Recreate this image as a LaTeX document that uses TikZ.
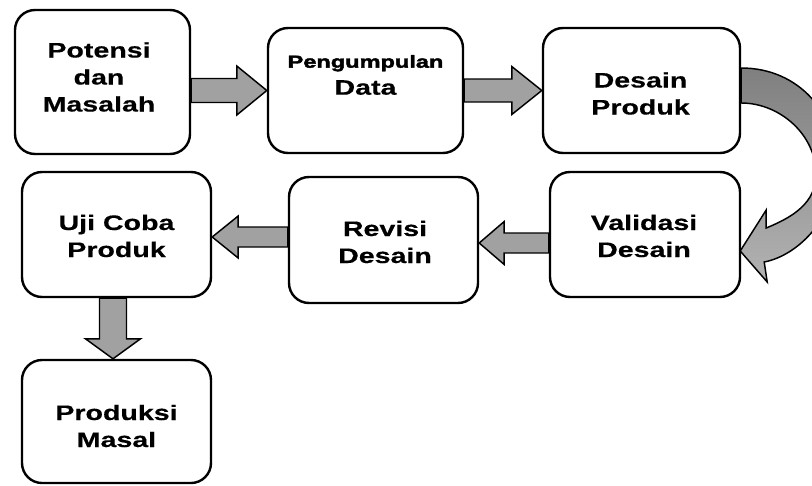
\documentclass[tikz,border=0pt]{standalone}
\usepackage{fontspec}
\setmainfont{Liberation Sans}[FakeStretch=1.36, BoldFeatures={FakeBold=0.4}]
\newfontfamily\heavyfont{Liberation Sans}[FakeStretch=1.36, BoldFeatures={FakeBold=2.4}]
\usetikzlibrary{calc}
\pgfdeclarelayer{back}
\pgfsetlayers{back,main}

% horizontal block arrow: start, tip, shaft half-width, head half-width, signed head length
\newcommand\hblock[5]{%
  \draw[blockarrow] ($#1+(0,{-(#3)})$) -- ($#2+({-(#5)},{-(#3)})$) -- ($#2+({-(#5)},{-(#4)})$)
    -- #2 -- ($#2+({-(#5)},{#4})$) -- ($#2+({-(#5)},{#3})$) -- ($#1+(0,{#3})$) -- cycle;}

\begin{document}
\begin{tikzpicture}[x=0.75pt,y=-0.75pt,
  box/.style={draw, line width=1.8pt, rounded corners=15pt, fill=white, inner sep=0pt},
  txt/.style={align=center, inner sep=0pt, font=\bfseries\fontsize{15.75}{20.25}\selectfont},
  blockarrow/.style={draw, line width=1.1pt, fill=black!37, line join=miter},
  bendarrow/.style={draw, line width=1.1pt, top color=black!50, bottom color=black!30, line join=miter}]
\useasboundingbox (0,0) rectangle (812,485);

% process boxes
\node[box, minimum width=131.25pt, minimum height=108pt]   (p) at (102.5,82)   {};
\node[box, minimum width=146.25pt, minimum height=93.75pt] (g) at (365.5,90.5) {};
\node[box, minimum width=147.75pt, minimum height=93.75pt] (d) at (641.5,90.5) {};
\node[box, minimum width=142.5pt,  minimum height=93.75pt] (v) at (645,234.5)  {};
\node[box, minimum width=141.75pt, minimum height=94.5pt]  (r) at (383.5,240)  {};
\node[box, minimum width=141.75pt, minimum height=93.75pt] (u) at (116.5,234.5) {};
\node[box, minimum width=141.75pt, minimum height=92.25pt] (m) at (116.5,421.5) {};

% box labels
\node[txt] (pt) at ($(p.center)+(-3.5,-5)$) {Potensi\\dan\\Masalah};
\node[txt] (gt) at ($(g.center)+(0,-15.5)$) {{\heavyfont\bfseries\fontsize{13}{20.25}\selectfont Pengumpulan}\\Data};
\node[txt] (dt) at ($(d.center)+(-1,3)$) {Desain\\Produk};
\node[txt] (vt) at ($(v.center)+(-1,1.5)$) {Validasi\\Desain};
\node[txt] (rt) at ($(r.center)+(1.5,2)$) {Revisi\\Desain};
\node[txt] (ut) at ($(u.center)+(0,1.5)$) {Uji Coba\\Produk};
\node[txt] (mt) at ($(m.center)+(0,4.5)$) {Produksi\\Masal};

\begin{pgfonlayer}{back}
  % straight block arrows
  \hblock{(p.east |- g.west)}{(g.west)}{12}{24.5}{30}
  \hblock{(g.east |- d.west)}{(d.west)}{11.5}{24}{30}
  \coordinate (t3) at ($(r.east)+(0,3)$);
  \hblock{(v.west |- t3)}{(t3)}{10}{21.5}{-25}
  \coordinate (t4) at ($(u.east)+(0,2.5)$);
  \hblock{(r.west |- t4)}{(t4)}{10}{21}{-26}
  \coordinate (t5) at ($(m.north)+(-3.5,0)$);
  \draw[blockarrow] ($(t5 |- u.south)+(-13.5,0)$) -- ($(t5)+(-13.5,-20)$) -- ($(t5)+(-27.5,-20)$)
    -- (t5) -- ($(t5)+(27.5,-20)$) -- ($(t5)+(13.5,-20)$) -- ($(t5 |- u.south)+(13.5,0)$) -- cycle;
  % bent arrow from Desain Produk down to Validasi Desain
  \begin{scope}
    \clip (0,0) rectangle (812,485);
    \shadedraw[bendarrow] ($(d.east)+(0,-22.5)$) .. controls (800,68) and (837,115) .. (837,165)
      .. controls (837,215) and (800,255) .. ($(v.east)+(23,27.5)$)
      -- ($(v.east)+(26,47.5)$) -- ($(v.east)+(-1,16.5)$) -- ($(v.east)+(25,-24.5)$)
      -- ($(v.east)+(25,-6.5)$) .. controls (793,217) and (816,203) .. (816,174)
      .. controls (816,135) and (780,103) .. ($(d.east)+(0,12.5)$) -- cycle;
  \end{scope}
\end{pgfonlayer}
\end{tikzpicture}
\end{document}
